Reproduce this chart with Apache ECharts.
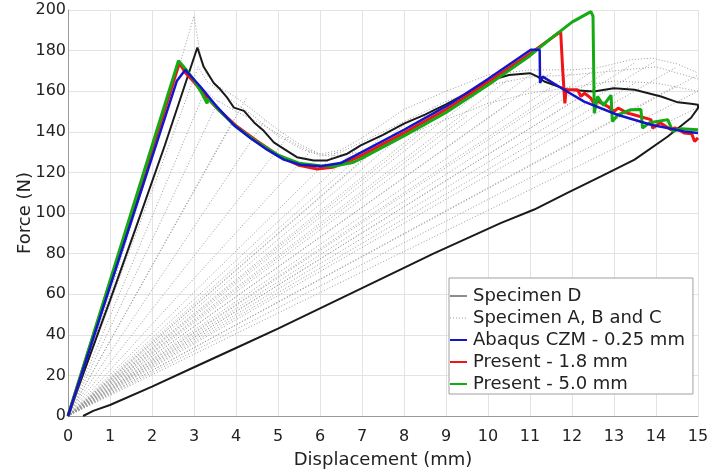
<!DOCTYPE html>
<html>
<head>
<meta charset="utf-8">
<script src="https://cdn.jsdelivr.net/npm/echarts@6.0.0/dist/echarts.min.js"></script>
<style>
html,body{margin:0;padding:0;background:#fff;}
#chart{width:712px;height:474px;}
</style>
</head>
<body>
<div id="chart"></div>
<script>
// ---- Specimen D (black) ----
const specDX = [0, 0.7, 1.0, 1.6, 2.3, 3.08, 3.23, 3.47, 3.63, 3.79, 3.95, 4.19, 4.43, 4.66, 4.9, 5.14, 5.45, 5.85, 6.17, 6.65, 6.97, 7.5, 8.0, 8.5, 9.0, 9.5, 10.0, 10.5, 11.0, 11.18, 11.34, 11.89, 12.52, 13.0, 13.49, 14.12, 14.52, 14.83, 15.0, 15.0, 14.83, 14.28, 13.49, 12.69, 11.89, 11.1, 10.3, 9.5, 8.7, 7.9, 7.0, 6.0, 5.0, 4.0, 3.0, 2.0, 1.0, 0.6, 0.36];
const specDF = [0, 40, 57, 91.8, 133, 181.5, 172, 164, 160.8, 156.8, 151.9, 150.3, 144.6, 140.5, 134.8, 131.6, 127.5, 125.9, 125.9, 129.2, 133.3, 138.5, 144, 148.5, 153.5, 159, 165, 168, 168.9, 167.2, 164.8, 160.7, 159.9, 161.5, 160.7, 157.4, 154.5, 153.8, 153.3, 151.7, 146.8, 137.7, 126.3, 118, 109.9, 101.7, 95, 87.5, 80, 72, 63, 53, 43, 33.5, 24, 14.5, 5.4, 2.5, 0];

// ---- Abaqus CZM - 0.25 mm (blue) ----
const czmX = [0, 2.59, 2.79, 3.15, 3.54, 3.94, 4.34, 4.74, 5.14, 5.53, 6.01, 6.49, 6.96, 8.0, 9.0, 10.0, 11.02, 11.23, 11.24, 11.3, 11.81, 12.29, 13.08, 13.88, 14.67, 15.0];
const czmF = [0, 165, 170.5, 162.3, 152.5, 143.5, 136.9, 131.2, 126.3, 123.8, 123, 124.6, 129.6, 141, 152.5, 166, 180.4, 180.4, 164, 167.2, 160.7, 154.9, 148.4, 143.5, 140.2, 139.4];

// ---- Present - 1.8 mm (red) ----
const p18X = [0, 2.65, 2.8, 3.0, 3.3, 3.6, 4.0, 4.5, 5.0, 5.5, 5.93, 6.3, 6.8, 7.0, 8.0, 9.0, 10.0, 11.0, 11.5, 11.73, 11.78, 11.83, 11.86, 12.13, 12.21, 12.3, 12.45, 12.53, 12.62, 12.85, 13.0, 13.1, 13.32, 13.45, 13.88, 13.92, 14.1, 14.36, 14.45, 14.67, 14.85, 14.92, 15.0];
const p18F = [0, 173.8, 169, 164.5, 157, 150.5, 143, 135.5, 128.5, 123.5, 121.7, 122.5, 126.5, 128.5, 139.5, 151, 164.5, 178.5, 186, 189.4, 170, 154, 160.7, 160.7, 157.5, 159, 156.6, 153.5, 155, 152.5, 150, 151.7, 149.2, 148.5, 146, 141.8, 144.5, 141, 142, 139.4, 139, 135.3, 137];

// ---- Present - 5.0 mm (green) ----
const p50X = [0, 2.63, 2.8, 3.0, 3.2, 3.31, 3.34, 3.6, 4.0, 4.5, 5.0, 5.5, 6.0, 6.33, 6.8, 7.0, 8.0, 9.0, 10.0, 11.0, 11.5, 12.0, 12.45, 12.5, 12.53, 12.61, 12.75, 12.93, 12.96, 13.1, 13.4, 13.64, 13.68, 13.85, 14.28, 14.4, 14.6, 15.0];
const p50F = [0, 175, 171, 165.5, 158.5, 154, 156.5, 150.5, 142.5, 135, 128.5, 124.5, 123.3, 123, 125, 127, 138, 149.5, 163, 177.5, 186, 194, 199.2, 197, 149.2, 157.4, 153, 158, 145.1, 148.5, 150.9, 151, 141.8, 144.5, 146, 140.2, 141.5, 141];

// ---- Specimen A, B and C (grey dotted) : envelopes ----
const grayAX = [0, 1.0, 2.0, 3.0, 3.15, 3.3, 3.6, 4.0, 4.5, 5.0, 5.5, 6.0, 6.5, 7.0, 8.0, 9.0, 10.0, 11.0, 12.0, 12.6, 13.4, 13.9, 14.5, 15.0];
const grayAF = [0, 60, 127, 197, 178, 168, 162, 157, 149, 141, 134, 129, 131, 137, 151, 160, 168, 170.5, 170.5, 171.5, 175.5, 176.3, 173.5, 169];
const grayBX = [0, 3.27, 3.5, 4.0, 4.5, 5.0, 5.5, 6.0, 6.5, 7.0, 8.0, 9.0, 10.0, 11.0, 12.0, 13.0, 14.0, 15.0];
const grayBF = [0, 160.6, 156, 150, 145, 139, 133, 128, 130, 135, 145, 155, 163, 167, 168, 170, 172, 166];
const grayCX = [0, 3.1, 3.3, 3.8, 4.4, 5.0, 5.6, 6.2, 7.0, 8.0, 9.0, 10.0, 11.0, 12.0, 13.0, 14.0, 15.0];
const grayCF = [0, 172, 165, 157, 148, 138, 131, 128, 130, 138, 146, 154, 159, 162, 165, 164, 160];
// reload / unload cycles (end points on the envelopes)
const fanEndX = [3.6, 3.94, 4.26, 4.7, 5.25, 5.8, 6.4, 7.0, 7.6, 8.2, 8.8, 9.4, 10.0, 10.5, 11.0, 11.5, 12.0, 12.5, 13.0, 13.5, 14.0, 14.5, 15.0, 7.5, 8.5, 9.5, 10.5, 11.5, 12.5, 13.5, 14.5, 15.0, 15.0];
const fanEndF = [156, 146, 157, 146, 138, 131, 130, 134, 140, 147, 153, 158, 163, 166, 168, 169, 169, 170, 172, 174, 175, 172, 168, 135, 141, 148, 154, 158, 161, 164, 163, 160, 152];

const pairs = (xs, fs) => xs.map((x, i) => [x, fs[i]]);

const FONT = 'DejaVu Sans';
const GRAY = '#9a9a9a';
const grayName = 'Specimen A, B and C';

const series = [];
function grayLine(data) {
  series.push({
    name: grayName, type: 'line', data: data, symbol: 'none', silent: true,
    itemStyle: { color: GRAY },
    lineStyle: { color: GRAY, width: 1, type: [1, 2] }, z: 1
  });
}
grayLine(pairs(grayAX, grayAF));
grayLine(pairs(grayBX, grayBF));
grayLine(pairs(grayCX, grayCF));
fanEndX.forEach((x, i) => grayLine([[0, 0], [x, fanEndF[i]]]));

function mainLine(name, xs, fs, color, width, z) {
  series.push({ name: name, type: 'line', data: pairs(xs, fs), symbol: 'none',
    itemStyle: { color: color }, lineStyle: { color: color, width: width }, z: z });
}
mainLine('Specimen D', specDX, specDF, '#1a1a1a', 2, 3);
mainLine('Present - 1.8 mm', p18X, p18F, '#f01414', 3, 4);
mainLine('Present - 5.0 mm', p50X, p50F, '#14aa14', 3, 5);
mainLine('Abaqus CZM - 0.25 mm', czmX, czmF, '#1414c8', 2.5, 6);

const hideSym = { opacity: 0 };
const chart = echarts.init(document.getElementById('chart'), null, { renderer: 'canvas' });
chart.setOption({
  animation: false,
  backgroundColor: '#ffffff',
  textStyle: { fontFamily: FONT },
  grid: { left: 68, right: 14, top: 10, bottom: 58, containLabel: false },
  xAxis: {
    type: 'value', min: 0, max: 15, interval: 1,
    name: 'Displacement (mm)', nameLocation: 'middle', nameGap: 35, nameMoveOverlap: false,
    nameTextStyle: { fontSize: 18, color: '#222', fontFamily: FONT },
    axisLine: { show: true, lineStyle: { color: '#999', width: 1 } },
    axisTick: { show: false },
    axisLabel: { fontSize: 16, color: '#222', margin: 13, fontFamily: FONT },
    splitLine: { show: true, lineStyle: { color: '#e3e3e3', width: 1 } }
  },
  yAxis: {
    type: 'value', min: 0, max: 200, interval: 20,
    name: 'Force (N)', nameLocation: 'middle', nameGap: 34, nameMoveOverlap: false,
    nameTextStyle: { fontSize: 18, color: '#222', fontFamily: FONT },
    axisLine: { show: true, lineStyle: { color: '#999', width: 1 } },
    axisTick: { show: false },
    axisLabel: { fontSize: 16, color: '#222', margin: 2, fontFamily: FONT },
    splitLine: { show: true, lineStyle: { color: '#e3e3e3', width: 1 } }
  },
  legend: {
    orient: 'vertical', left: 449, top: 278,
    backgroundColor: '#ffffff', borderColor: '#a0a0a0', borderWidth: 1,
    padding: [9, 8, 1, 0], itemGap: 4, itemWidth: 17, itemHeight: 14,
    textStyle: { fontSize: 18, color: '#222', fontFamily: FONT, padding: [0, 0, 0, 1] },
    itemStyle: hideSym,
    data: [
      { name: 'Specimen D', lineStyle: { width: 1 }, itemStyle: hideSym },
      { name: grayName, lineStyle: { width: 1 }, itemStyle: hideSym },
      { name: 'Abaqus CZM - 0.25 mm', lineStyle: { width: 2 }, itemStyle: hideSym },
      { name: 'Present - 1.8 mm', lineStyle: { width: 2 }, itemStyle: hideSym },
      { name: 'Present - 5.0 mm', lineStyle: { width: 2 }, itemStyle: hideSym }
    ]
  },
  series: series
});
</script>
</body>
</html>
